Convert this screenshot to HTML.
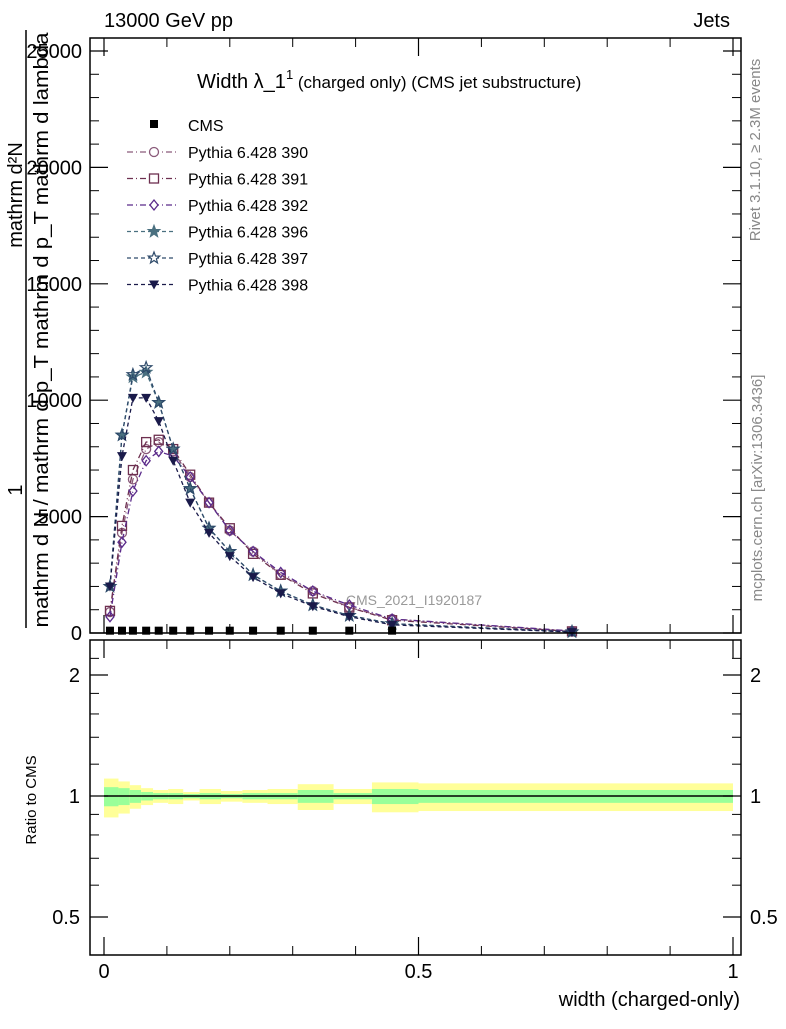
<!DOCTYPE html>
<html><head><meta charset="utf-8"><style>
body{margin:0;background:#fff}
svg text{font-family:"Liberation Sans",sans-serif}
</style></head><body>
<svg id="chart" width="786" height="1024" viewBox="0 0 786 1024" xmlns="http://www.w3.org/2000/svg">
<text x="104" y="27" font-size="20">13000 GeV pp</text>
<text x="730" y="27" font-size="20" text-anchor="end">Jets</text>
<text transform="translate(760,150) rotate(-90)" font-size="15" fill="#888" text-anchor="middle">Rivet 3.1.10, ≥ 2.3M events</text>
<text transform="translate(762,488) rotate(-90)" font-size="15" fill="#888" text-anchor="middle">mcplots.cern.ch [arXiv:1306.3436]</text>
<g>
<text transform="translate(22,195) rotate(-90)" font-size="20" text-anchor="middle">mathrm d²N</text>
<text transform="translate(22,490) rotate(-90)" font-size="20" text-anchor="middle">1</text>
<line x1="26" y1="30" x2="26" y2="628" stroke="#000" stroke-width="1.5"/>
<text transform="translate(48,330) rotate(-90)" font-size="20" text-anchor="middle" textLength="595" lengthAdjust="spacingAndGlyphs">mathrm d N / mathrm d p_T mathrm d p_T mathrm d lambda</text>
</g>
<text transform="translate(36,800) rotate(-90)" font-size="15" text-anchor="middle">Ratio to CMS</text>
<text x="740" y="1006" font-size="20" text-anchor="end">width (charged-only)</text>
<text x="197" y="88" font-size="20">Width λ_1<tspan font-size="13" dy="-9">1</tspan><tspan font-size="17" dy="9"> (charged only) (CMS jet substructure)</tspan></text>
<text x="414" y="605" font-size="14" fill="#999" text-anchor="middle">CMS_2021_I1920187</text>
<g id="ratio-band"></g>
<g id="main"></g>
<g id="axes"></g>
<g id="legend"></g>
</svg>
<script>
const xs=[0.0095,0.0286,0.046,0.067,0.087,0.110,0.137,0.167,0.200,0.237,0.281,0.332,0.390,0.458,0.744];
const cmsVals=[100,100,100,100,100,100,100,100,100,100,100,100,100,100];
const s390=[900,4300,6600,7900,8200,7800,6700,5600,4400,3500,2500,1800,1100,600,80];
const s391=[950,4600,7000,8200,8300,7900,6800,5600,4500,3400,2500,1700,1100,550,70];
const s392=[700,3900,6100,7400,7800,7600,6700,5600,4400,3500,2600,1800,1200,600,90];
const s396=[2000,8500,11000,11200,9900,7900,6200,4500,3500,2500,1800,1200,750,400,50];
const s397=[2000,8500,11100,11400,9900,7900,6200,4500,3500,2500,1800,1200,750,400,50];
const s398=[2000,7600,10100,10100,9100,7400,5600,4300,3300,2400,1700,1150,700,350,40];
const bandEdges=[0,0.023,0.041,0.059,0.078,0.102,0.126,0.152,0.186,0.220,0.260,0.308,0.365,0.426,0.500,1.0];
const bandInner=[0.052,0.046,0.035,0.023,0.017,0.017,0.012,0.017,0.012,0.017,0.017,0.035,0.017,0.041,0.035];
const bandOuter=[0.105,0.087,0.064,0.046,0.035,0.041,0.023,0.041,0.029,0.035,0.041,0.07,0.041,0.081,0.075];
const yTicks=[0,5000,10000,15000,20000,25000];
const rTicks=[0.5,1,2];
const xTicks=[0,0.5,1];
const NS="http://www.w3.org/2000/svg";
const X=v=>104+v*629;
const Y=v=>633-v*0.02328;
const R=v=>796-Math.log2(v)*121;
function mk(t,a,p){const e=document.createElementNS(NS,t);for(const k in a)e.setAttribute(k,a[k]);p.appendChild(e);return e;}
const band=document.getElementById('ratio-band');
for(let i=0;i<bandInner.length;i++){
 const x0=X(bandEdges[i]),w=X(bandEdges[i+1])-x0;
 const o=mk('rect',{x:x0,y:R(1+bandOuter[i]),width:w,height:R(1-bandOuter[i]*1.1)-R(1+bandOuter[i]),fill:'#ffff99'},band);
 
 
 const n=mk('rect',{x:x0,y:R(1+bandInner[i]),width:w,height:R(1-bandInner[i]*1.1)-R(1+bandInner[i]),fill:'#99ff99'},band);
 
 
}
mk('line',{x1:X(0),x2:X(1),y1:R(1),y2:R(1),stroke:'#000','stroke-width':1.5},band);
const main=document.getElementById('main');
function marker(type,x,y,c,g){
 if(type==='circle')return mk('circle',{cx:x,cy:y,r:4.5,fill:'none',stroke:c,'stroke-width':1.3},g);
 if(type==='square')return mk('rect',{x:x-4.5,y:y-4.5,width:9,height:9,fill:'none',stroke:c,'stroke-width':1.3},g);
 if(type==='diamond')return mk('polygon',{points:`${x},${y-5} ${x+4},${y} ${x},${y+5} ${x-4},${y}`,fill:'none',stroke:c,'stroke-width':1.3},g);
 if(type==='star'||type==='ostar'){let p=[];for(let k=0;k<10;k++){const r=k%2?2.5:6;const a=-Math.PI/2+k*Math.PI/5;p.push((x+r*Math.cos(a)).toFixed(1)+','+(y+r*Math.sin(a)).toFixed(1));}
  return mk('polygon',{points:p.join(' '),fill:type==='star'?c:'none',stroke:c,'stroke-width':1.2},g);}
 if(type==='tri')return mk('polygon',{points:`${x-5},${y-4} ${x+5},${y-4} ${x},${y+5}`,fill:c},g);
 if(type==='sq')return mk('rect',{x:x-4,y:y-4,width:8,height:8,fill:c},g);
}
const series=[
 {vals:s390,name:'Pythia 6.428 390',c:'#8a5a7a',m:'circle',d:'6,3,1,3'},
 {vals:s391,name:'Pythia 6.428 391',c:'#6e3050',m:'square',d:'6,3,1,3'},
 {vals:s392,name:'Pythia 6.428 392',c:'#5a2a8a',m:'diamond',d:'6,3,1,3'},
 {vals:s396,name:'Pythia 6.428 396',c:'#4a7080',m:'star',d:'4,3'},
 {vals:s397,name:'Pythia 6.428 397',c:'#2e4a6a',m:'ostar',d:'4,3'},
 {vals:s398,name:'Pythia 6.428 398',c:'#1a1a4a',m:'tri',d:'4,3'}];
series.forEach(s=>{
 const g=mk('g',{},main);
 
 
 mk('polyline',{points:s.vals.map((v,i)=>X(xs[i])+','+Y(v)).join(' '),fill:'none',stroke:s.c,'stroke-width':1.3,'stroke-dasharray':s.d},g);
 s.vals.forEach((v,i)=>{const m=marker(s.m,X(xs[i]),Y(v),s.c,g);
  
  });
});
const cg=mk('g',{},main);


cmsVals.forEach((v,i)=>{const m=marker('sq',X(xs[i]),Y(v),'#000',cg);
 
 });
const ax=document.getElementById('axes');
mk('rect',{x:90,y:38,width:651,height:595,fill:'none',stroke:'#000','stroke-width':1.5},ax);
mk('rect',{x:90,y:640,width:651,height:315,fill:'none',stroke:'#000','stroke-width':1.5},ax);
yTicks.forEach(t=>{
 mk('line',{x1:90,x2:108,y1:Y(t),y2:Y(t),stroke:'#000','stroke-width':1.2},ax);
 mk('line',{x1:741,x2:723,y1:Y(t),y2:Y(t),stroke:'#000','stroke-width':1.2},ax);
 const tx=mk('text',{x:82,y:Y(t)+7,'font-size':20,'text-anchor':'end'},ax);tx.textContent=t;
 
 
});
for(let t=0;t<=25000;t+=1000){if(t%5000)mk('line',{x1:90,x2:99,y1:Y(t),y2:Y(t),stroke:'#000'},ax),mk('line',{x1:741,x2:732,y1:Y(t),y2:Y(t),stroke:'#000'},ax);}
rTicks.forEach(t=>{
 mk('line',{x1:90,x2:108,y1:R(t),y2:R(t),stroke:'#000','stroke-width':1.2},ax);
 mk('line',{x1:741,x2:723,y1:R(t),y2:R(t),stroke:'#000','stroke-width':1.2},ax);
 const a=mk('text',{x:80,y:R(t)+7,'font-size':20,'text-anchor':'end'},ax);a.textContent=t;
 
 
 const b=mk('text',{x:750,y:R(t)+7,'font-size':20},ax);b.textContent=t;
 
 
});
[0.6,0.7,0.8,0.9,1.2,1.4,1.6,1.8,2.2].forEach(t=>{mk('line',{x1:90,x2:99,y1:R(t),y2:R(t),stroke:'#000'},ax);mk('line',{x1:741,x2:732,y1:R(t),y2:R(t),stroke:'#000'},ax);});
xTicks.forEach(t=>{
 [[633,615],[38,56],[955,937],[640,658]].forEach(p=>mk('line',{x1:X(t),x2:X(t),y1:p[0],y2:p[1],stroke:'#000','stroke-width':1.2},ax));
 const tx=mk('text',{x:X(t),y:978,'font-size':20,'text-anchor':'middle'},ax);tx.textContent=t;
 
 
});
for(let t=0.1;t<1;t+=0.1){if(Math.abs(t-0.5)>0.01)[[633,624],[38,47],[955,946],[640,649]].forEach(p=>mk('line',{x1:X(t),x2:X(t),y1:p[0],y2:p[1],stroke:'#000'},ax));}
const lg=document.getElementById('legend');
const le=mk('g',{},lg);


marker('sq',154,124,'#000',le);
mk('text',{x:188,y:131,'font-size':16},le).textContent='CMS';
series.forEach((s,i)=>{
 const y=152+i*26.5;
 const g=mk('g',{},lg);
 
 
 mk('line',{x1:127,x2:176,y1:y,y2:y,stroke:s.c,'stroke-width':1.2,'stroke-dasharray':s.d},g);
 const m=marker(s.m,154,y,s.c,g);m.setAttribute('fill',s.m==='star'||s.m==='tri'?s.c:'#fff');
 mk('text',{x:188,y:y+6,'font-size':16},g).textContent=s.name;
});
</script>
</body></html>
